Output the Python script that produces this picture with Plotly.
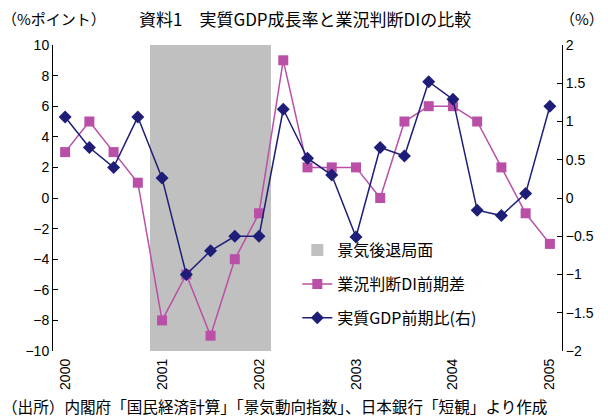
import plotly.graph_objects as go

quarters = ["2000Q1", "2000Q2", "2000Q3", "2000Q4",
            "2001Q1", "2001Q2", "2001Q3", "2001Q4",
            "2002Q1", "2002Q2", "2002Q3", "2002Q4",
            "2003Q1", "2003Q2", "2003Q3", "2003Q4",
            "2004Q1", "2004Q2", "2004Q3", "2004Q4",
            "2005Q1"]
di_change = [3, 5, 3, 1, -8, -5, -9, -4, -1, 9, 2, 2, 2, 0, 5, 6, 6, 5, 2, -1, -3]
gdp_qoq = [1.06, 0.66, 0.40, 1.06, 0.26, -1.0, -0.69, -0.50, -0.50, 1.16, 0.52, 0.30,
           -0.51, 0.66, 0.55, 1.52, 1.29, -0.16, -0.23, 0.06, 1.20]
recession_quarters = ["2001Q1", "2001Q2", "2001Q3", "2001Q4", "2002Q1"]
year_labels = ["2000", "2001", "2002", "2003", "2004", "2005"]

left_min, left_max = -10, 10
right_min, right_max = -2, 2

idx = list(range(len(quarters)))
rec_idx = [quarters.index(q) for q in recession_quarters]
year_idx = [quarters.index(y + "Q1") for y in year_labels]

NUM = "Liberation Sans"
JP = "Noto Sans CJK JP"

fig = go.Figure()
fig.add_trace(go.Bar(
    x=rec_idx, y=[left_max - left_min] * len(rec_idx), base=left_min, width=1,
    marker=dict(color="#C0C0C0", line=dict(width=0)),
    name="景気後退局面", legendgroup="a", yaxis="y", xaxis="x", hoverinfo="skip"))
fig.add_trace(go.Scatter(
    x=idx, y=di_change, mode="lines+markers", name="業況判断DI前期差", legendgroup="b",
    line=dict(color="#B94FA6", width=1.5),
    marker=dict(symbol="square", size=10, color="#B94FA6"),
    yaxis="y", xaxis="x"))
fig.add_trace(go.Scatter(
    x=idx, y=gdp_qoq, mode="lines+markers", name="実質GDP前期比(右)", legendgroup="c",
    line=dict(color="#1E1E78", width=1.5),
    marker=dict(symbol="diamond", size=10, color="#1E1E78"),
    yaxis="y2", xaxis="x"))

fig.update_layout(
    width=608, height=418,
    margin=dict(l=53, r=46, t=45, b=67),
    paper_bgcolor="white", plot_bgcolor="white",
    font=dict(family=NUM, size=14, color="black"),
    showlegend=True,
    legend=dict(x=0.48, y=0.385, xanchor="left", yanchor="top",
                bgcolor="rgba(0,0,0,0)", font=dict(family=JP, size=16),
                tracegroupgap=10, itemwidth=30, traceorder="grouped"),
    xaxis=dict(range=[-0.5, len(quarters) - 0.5], tickmode="array",
               tickvals=year_idx, ticktext=year_labels, tickangle=-90,
               showgrid=False, zeroline=False, showline=False, ticks="",
               ticklabelstandoff=4,
               tickfont=dict(family=NUM, size=14)),
    xaxis2=dict(range=[-0.5, len(quarters) - 0.5], overlaying="x",
                anchor="free", position=0.5, side="bottom",
                tickmode="linear", tick0=-0.5, dtick=1,
                ticks="inside", ticklen=5, tickcolor="black",
                showticklabels=False, showgrid=False, zeroline=False,
                showline=True, linecolor="black", linewidth=1),
    yaxis=dict(range=[left_min, left_max], dtick=2, ticks="inside", ticklen=5,
               showline=True, linecolor="black", tickcolor="black",
               showgrid=False, zeroline=False,
               tickfont=dict(family=NUM, size=14)),
    yaxis2=dict(range=[right_min, right_max], dtick=0.5, overlaying="y", side="right",
                ticks="inside", ticklen=5, showline=True, linecolor="black",
                tickcolor="black", showgrid=False, zeroline=False,
                tickfont=dict(family=NUM, size=14)),
    bargap=0,
    annotations=[
        dict(text="資料1　実質GDP成長率と業況判断DIの比較", xref="paper", yref="paper",
             x=(137 - 53) / 509, y=1, yshift=27, xanchor="left", yanchor="middle",
             showarrow=False, font=dict(family=JP, size=17)),
        dict(text="（%ポイント）", xref="paper", yref="paper", x=-53 / 509, y=1,
             yshift=27, xanchor="left", yanchor="middle", showarrow=False,
             font=dict(family=JP, size=15)),
        dict(text="（%）", xref="paper", yref="paper", x=(606 - 53) / 509, y=1,
             yshift=27, xanchor="right", yanchor="middle", showarrow=False,
             font=dict(family=JP, size=15)),
        dict(text="（出所）内閣府「国民経済計算」「景気動向指数」、日本銀行「短観」より作成",
             xref="paper", yref="paper", x=-53 / 509, y=0, yshift=-55,
             xanchor="left", yanchor="middle", showarrow=False,
             font=dict(family=JP, size=15.6)),
    ],
)

fig.write_html("out.html")
